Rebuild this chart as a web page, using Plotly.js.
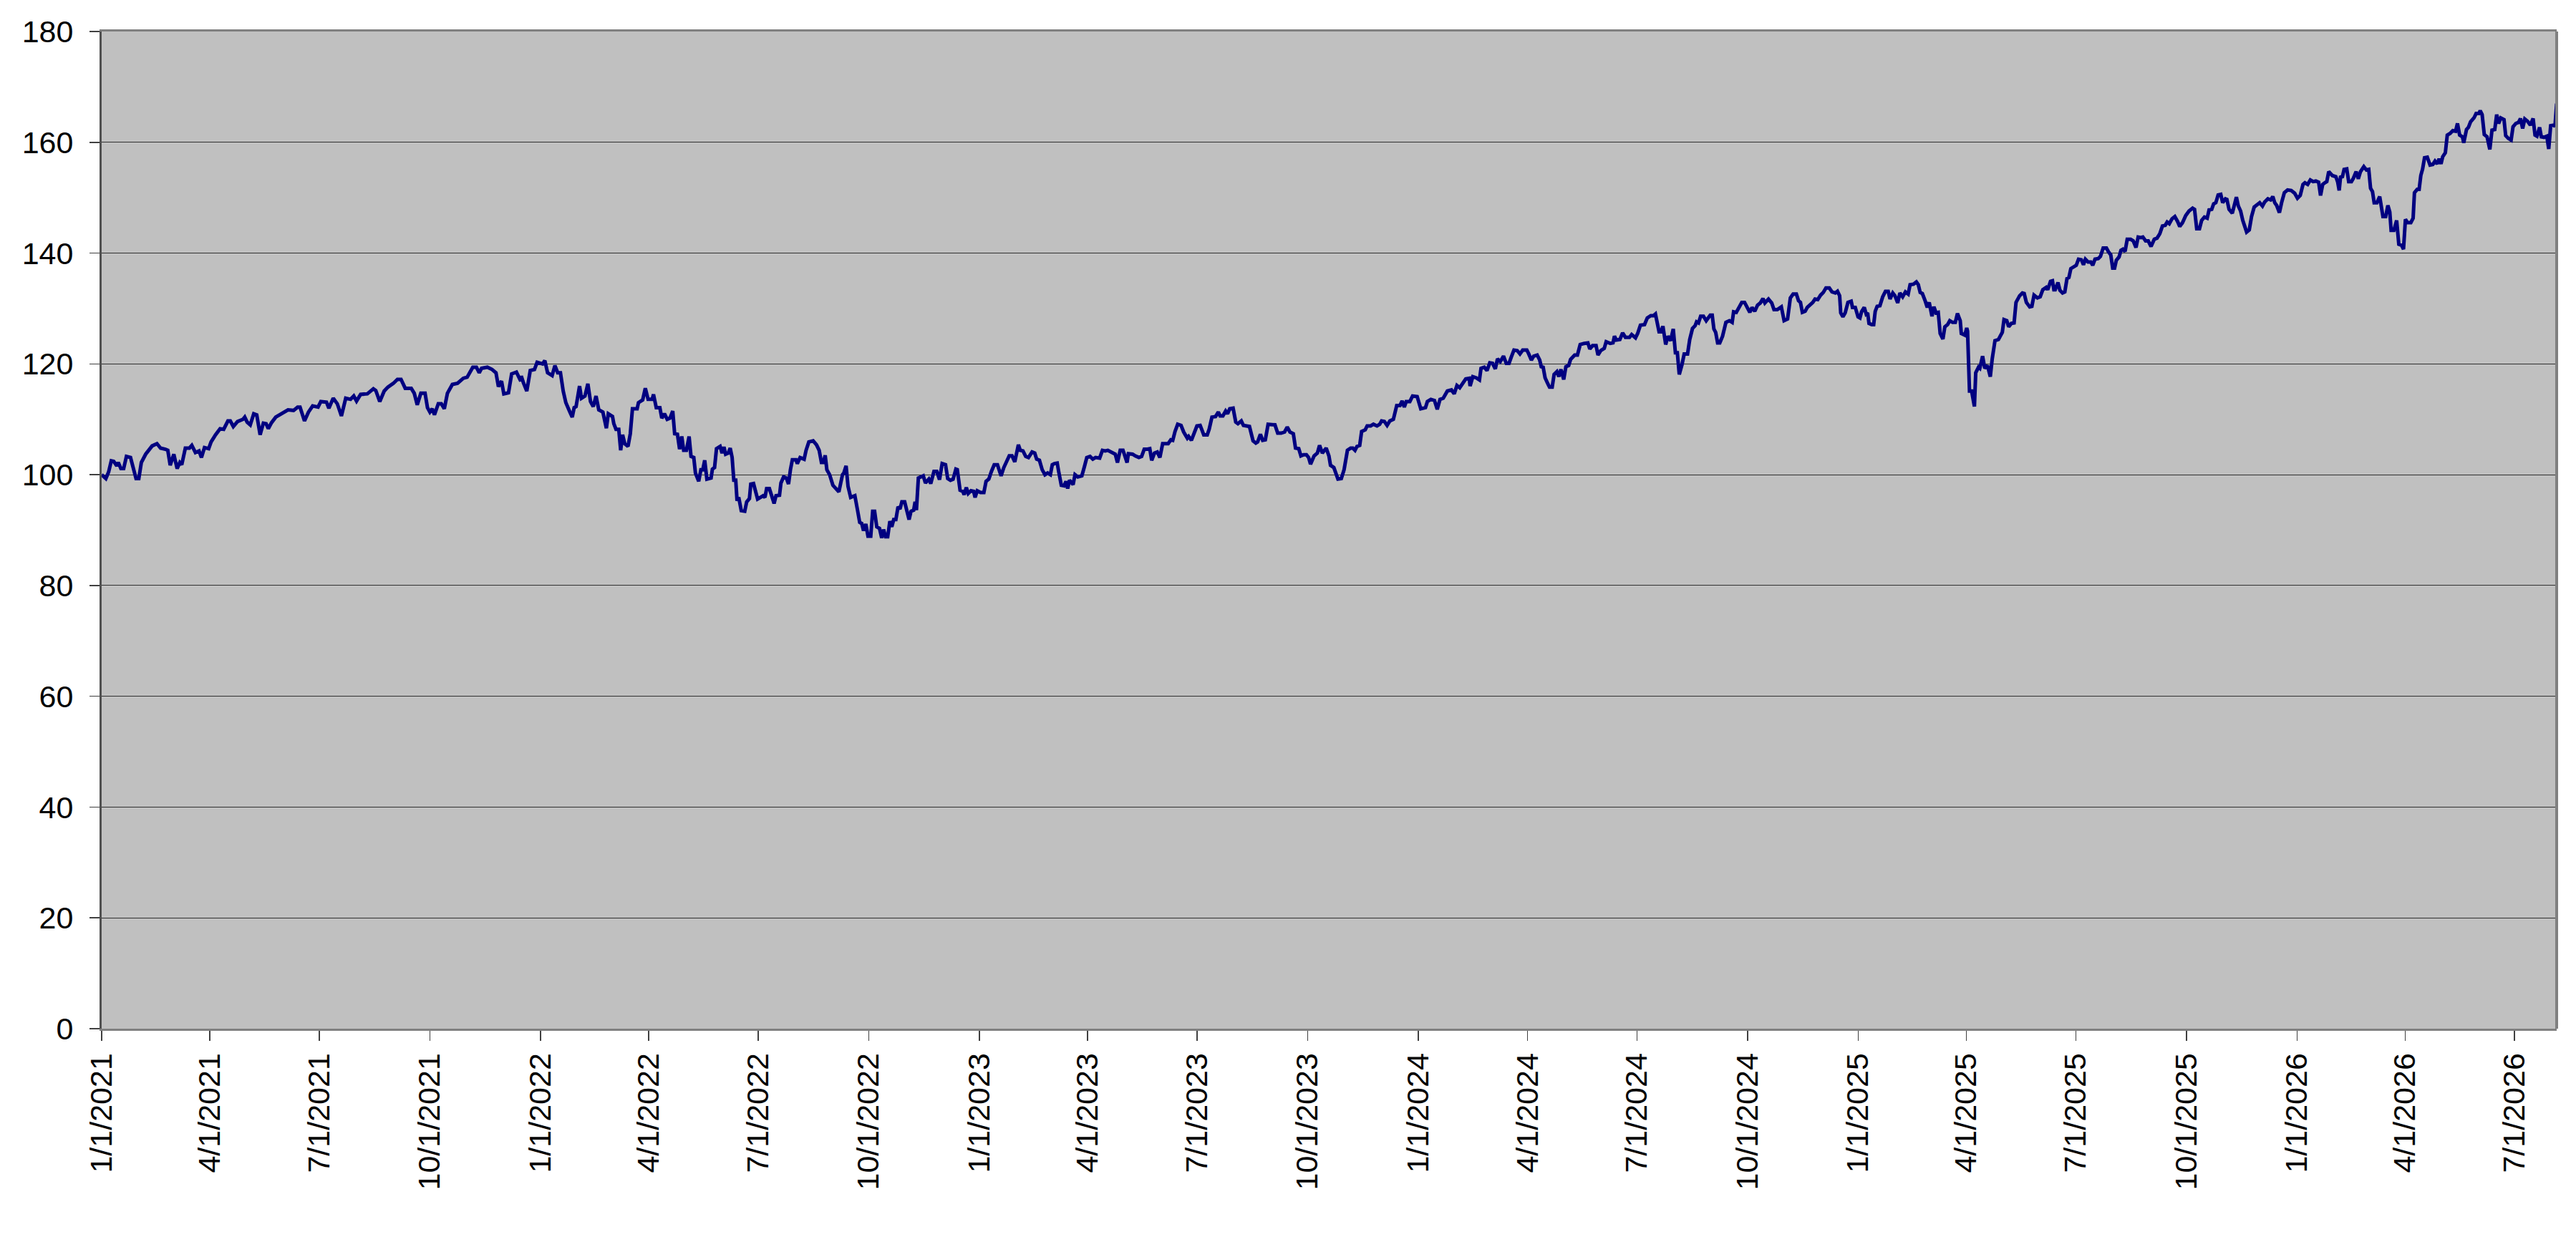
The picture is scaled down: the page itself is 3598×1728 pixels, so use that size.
<!DOCTYPE html>
<html>
<head>
<meta charset="utf-8">
<script src="https://cdn.plot.ly/plotly-3.0.1.min.js"></script>
<style>
  html, body { margin:0; padding:0; background:#fff; }
  #chart { width:3598px; height:1728px; }
</style>
</head>
<body>
<div id="chart"></div>
<script>
// Days after 1/1/2021 and index values
const daysA = [0,3.5,5.8,8,10,12.6,13.8,16,18.3,20.6,24,26.3,28.6,30.9,33,36.6,38.8,42,46,49,53,55,57,60,62.8,65,66.6,69.6,73,75,78,81,83,85.5,89,91,94.7,98.5,101.5,105,107,109.5,113,117.5,119,121,123.6,126.5,129,131.8,134.5,136.8,138.6,141.3,144.8,148,151.6,155,159.6,163,165,168.7,172,175.5,180,182.3,187,189,192.6,196,199.4,203,207,209.7,212,215.4,221,226,228,231.3,235,238,242.7,246,249,252.5,257.5,260,262.5,265.5,269,271,273,275,276.8,280,282.5,285,287.6,291.7,296,300.8,304,308.7,311.7,314,316,320.8,324.7,328,330,332.6,334.5,338.4,341,345,348.6];
const valsA = [100.0,99.3,100.5,102.5,102.4,101.6,102.2,101.1,101.1,103.3,103.1,101.1,99.3,99.3,102.2,103.7,104.4,105.2,105.6,104.8,104.6,104.4,101.7,103.7,101.1,102.2,101.8,104.8,104.8,105.3,104.0,104.3,103.1,104.9,104.7,105.9,107.2,108.3,108.2,109.7,109.7,108.7,109.6,110.0,110.4,109.5,109.0,111.0,110.8,107.2,109.3,109.2,108.3,109.4,110.4,110.8,111.3,111.7,111.6,112.2,112.2,109.7,111.3,112.4,112.2,113.2,113.1,112.0,113.8,112.8,110.6,113.8,113.6,114.2,113.3,114.5,114.6,115.5,115.2,113.2,115.1,115.8,116.5,117.2,117.2,115.6,115.6,114.7,112.6,114.7,114.7,112.1,111.3,111.9,110.8,112.8,112.8,111.9,114.7,116.3,116.5,117.4,117.6,119.4,119.4,118.4,119.2,119.4,119.0,118.4,115.9,116.9,114.6,114.8,118.2,118.5,116.9];

const daysB = [349,350.8,353.6,356.5,360,362.2,366.8,368.6,370.9,374.7,377,379.3,381.6,383.9,386.1,389.5,391.4,393,394.6,397.5,399.1,402,404.4,406.6,408.9,411.2,413.5,416.9,419.8,421.4,424.9,426,427.8,430.1,431.7,433.3,435.1,437.8,439.7,441.5,445.4,446.5,450,452.2,454.5,457.9,459,461.3,464.3,465.9,468.1,470.4,472.7,475,476.6,478.9,480.7,482.5,484.1,486.4,488.6,490.2,492.5,493.9,496.6,498.4,500,501.6,503.4,506.9,508,509.8,511.4,514.4,516,517.6,519,521.2,522.8,524.4,525.8,527.4,528.5,529.9,532,534.9,536.5,538.8,539.9,542.2,544,545.6,547.9,550.1,551.7,553.1,555.4,557,559.3,560.9,563.8,565,567.2,569.5,571.3,572.9,574.5,577.5,578.6,580.9,584.3,585.9,588.2,591.8,594.6,596.8,598.7,600.3,601.8,603.2,605.5,608.2,610.5,613.2,616.2,617.3,619.2,620.8,623,626.5,628.7,630.5,632.2,633.7,635.6,637.4,639.7,641.3,642.9,644.7,647,648.8,650.4,652,653.8,655.6,657.2,658.8,660.6,662.4,664,665.6,667.9,669.3,671.6,673.2,675.4,676.6,677.7,679.3,681.1,683.4,685.2,688];
const valsB = [117.8,116.6,115.1,118.8,119.0,120.3,120.0,120.6,118.4,117.9,119.7,118.4,118.4,115.1,113.0,111.3,110.4,112.1,112.3,116.0,113.8,114.2,116.4,113.2,112.3,114.2,111.7,111.3,108.4,111.0,110.5,109.2,108.2,108.2,104.4,107.2,105.6,105.1,107.4,111.9,111.9,113.0,113.5,115.6,113.6,113.6,114.5,112.1,112.1,110.2,111.0,110.0,110.2,111.5,107.4,107.3,104.6,106.9,104.4,104.4,106.9,103.3,103.1,100.3,98.8,100.9,100.9,102.6,99.2,99.4,101.0,101.3,104.7,105.1,103.9,105.0,103.7,103.9,104.8,103.1,99.0,99.0,95.3,95.9,93.5,93.4,95.1,95.7,98.3,98.4,96.6,95.6,95.9,96.2,95.9,97.5,97.5,96.2,94.8,96.2,96.3,98.5,99.6,99.4,98.3,100.9,102.7,102.7,102.0,103.1,102.8,104.4,105.9,106.1,105.4,104.4,102.2,102.2,103.5,100.9,100.0,98.1,97.5,96.9,100.0,100.3,101.6,97.9,95.9,96.2,93.6,91.4,91.2,89.9,91.1,88.9,88.9,93.4,93.4,90.6,90.3,88.6,90.1,88.8,88.8,91.6,90.6,91.9,91.9,94.2,93.8,95.1,95.1,93.8,91.9,93.4,93.6,95.1,93.6,99.4,99.6,99.8,98.5,99.2];

const daysC = [689.6,692.3,694.6,696.9,699.1,701.9,703.7,706,708.2,710.5,711.7,714,716.2,717.4,719.2,720.8,723.1,725.3,726.5,728.3,731,733.8,735.6,737.9,740.1,742.4,745.1,748.1,750.4,752.7,754.9,757.2,759.5,762.5,764.1,766.3,768.6,770.9,773.9,776.1,777.7,780,782.3,784.6,786.8,789.1,790.7,792.5,794.8,795.9,798.2,800.5,802.1,803.5,805,808,809.6,811.9,815.3,817.6,819.4,822.1,824.4,826.7,830.1,832.4,834.7,836.9,840.4,843.1,844.9,847.2,849.5,851.8,852.9,854,857.5,859.7,862.7,865,867.2,870,871.8,873.4,875.7,878,880.2,882.5,884.8,887.1,889.3,890.9,892.8,895,897.8,900,903,904.1,906.4,908.7,911,913.7,916.7,919.6,921.2,923.5,926.5,928.8,930.3,932.6,934.9,936.5,938.3,941.1,943.3,945.1,947.9,949.7,952.4,954.7,957.7,960,961.5,963.8,965.7,967.9,970.2,972.5,975.9,978.2,981.1,983.9,986.1,988.4,991.2,993,995.7,997.5,999.8,1002.1,1003.9,1005.5,1008.5,1011.2,1013,1015.3,1018.5,1020.8,1022.1,1024.9,1027.1,1028.3];
const valsC = [98.4,100.6,100.6,99.1,102.0,101.8,99.3,99.0,99.2,101.0,100.9,97.2,97.0,96.4,97.7,96.6,97.1,97.0,95.9,97.1,96.8,96.8,98.8,99.2,100.6,101.8,101.8,99.8,101.3,102.4,103.4,103.4,102.3,105.4,104.4,104.3,103.3,103.1,104.1,103.9,102.8,102.6,100.9,100.0,100.3,100.0,101.8,102.0,102.1,100.7,98.1,98.0,98.8,97.5,99.0,98.2,100.0,99.6,99.8,101.6,103.1,103.3,102.8,103.1,103.0,104.4,104.3,104.4,103.9,103.7,102.2,104.4,104.4,102.8,102.2,103.8,103.7,103.4,103.1,103.3,104.6,104.6,104.7,102.6,103.9,104.1,103.1,105.6,105.6,105.6,106.3,106.2,107.8,109.1,108.9,107.7,106.6,106.9,106.2,107.4,108.8,108.9,107.2,107.2,108.2,110.4,110.5,111.3,110.6,110.6,111.5,111.0,111.9,112.0,109.5,109.2,109.7,108.9,108.8,108.7,106.1,105.7,105.9,107.3,106.2,106.3,109.1,109.1,109.0,107.5,107.5,107.7,108.6,107.7,107.4,104.8,104.7,103.4,103.6,103.6,103.1,101.9,103.4,103.9,105.3,103.9,104.8,103.4,101.7,101.3,100.0,99.2];

const daysD = [1031.1,1033.4,1036.2,1038.9,1040.7,1042.5,1044.1,1046.4,1048,1051,1052.6,1055.5,1057.8,1060.8,1063,1064.6,1066.9,1069.2,1071.5,1074.4,1077.2,1079.9,1081.7,1083.5,1085.1,1088.1,1090.4,1094.2,1097.2,1101.1,1102.7,1105.6,1108.6,1110.9,1113.2,1115.9,1119.3,1122.7,1125,1127.3,1129.6,1131.8,1134.6,1137.5,1138.2,1140.5,1143.2,1146,1147.3,1150,1152.3,1154.6,1156.9,1159.2,1161,1163.3,1166,1168.3,1170.6,1172.4,1174.7,1177.4,1179.7,1182,1185.4,1187,1189.2,1191.1,1194,1196.1,1197.4,1199,1200.6,1202.9,1204.3,1206.5,1208.1,1210.4,1212,1213.8,1216.1,1217.9,1220.2,1221.8,1225.2,1227.5,1229.8,1233.2,1236.2,1237.8,1240.1,1243,1244.6,1246.9,1249.8,1251.4,1254.8,1257.1,1258.3,1259.9,1262.8,1265.1,1267.4,1270.8,1272.6,1275.8,1277.6,1279.9,1283.3,1285.6,1288.5,1290.8,1292.4,1295.4,1297,1298.6,1300.9,1302.7,1305,1307.2,1309,1310.6,1312.2,1314.5,1316.3,1319.1,1320.9,1323.2,1325.4,1326.6,1328.2,1330,1332.3,1334.6,1338,1339.6,1341,1342.5,1344.1,1345.9,1348.2,1351,1353.9,1356.2,1357.4,1359.6,1361.9,1364.2,1366.5];
const valsD = [99.3,100.9,104.4,104.8,104.8,104.4,105.1,105.3,107.8,108.1,108.8,108.8,109.1,108.8,109.1,109.7,109.6,108.9,109.7,110.0,112.5,112.5,113.3,112.2,113.2,113.2,114.2,114.1,111.9,112.1,113.2,113.6,113.4,111.8,113.6,113.8,115.1,115.3,114.6,116.1,115.7,116.5,117.3,117.4,116.0,117.7,117.5,117.1,119.2,119.4,118.8,120.2,120.1,119.1,120.9,120.4,121.4,120.1,120.1,121.2,122.5,122.4,121.8,122.5,122.5,121.8,120.7,121.4,121.6,120.7,119.5,119.4,117.5,116.4,115.8,115.8,118.1,118.6,117.7,119.0,117.2,119.5,119.7,120.8,121.6,121.6,123.5,123.7,123.8,122.7,123.3,123.3,121.6,122.4,122.8,124.0,123.7,123.8,125.0,124.3,124.4,125.6,124.8,124.8,125.3,124.7,125.5,127.0,127.1,128.3,128.7,128.7,129.0,125.8,125.8,126.8,123.5,125.0,124.2,126.3,122.0,122.0,118.1,119.9,121.8,121.8,124.4,126.4,126.9,127.6,127.4,128.6,128.6,127.8,128.8,128.8,126.3,125.7,123.8,123.8,125.0,127.5,127.8,127.5,129.4,129.3,130.3,131.1,131.1];

const daysE = [1368.6,1370.9,1372.7,1375,1377.3,1379.6,1381.8,1383.4,1386.4,1389.1,1391,1393.7,1397.1,1399.4,1402.3,1404.6,1406.9,1409.6,1411.4,1413,1414.6,1416.9,1418.7,1421,1423.3,1425.1,1427.4,1429.7,1432,1434.2,1437,1439.2,1442,1443.8,1445.6,1446.5,1448.3,1450.2,1452.5,1455.2,1456.3,1458.6,1460.9,1462.5,1463.8,1466.1,1467.7,1468.9,1470,1472.3,1473.9,1475.2,1476.8,1479.1,1481.4,1483.7,1486,1487.5,1489.8,1491.6,1493.9,1495.7,1498,1500.3,1502.6,1504.2,1507.1,1509.4,1511,1512.6,1514.4,1516.7,1518.5,1520.1,1522.4,1524,1525.8,1527.6,1529.2,1531.5,1533.1,1535.4,1537.2,1539.5,1541.8,1543.6,1545.9,1546.8,1549.7,1551.3,1552,1553.6,1555.4,1557.7,1558.8,1561.1,1562.2,1564.5,1566.3,1568.6,1570.9,1572.5,1574.8,1577.7,1579.3,1580.9,1582.3,1584.6,1586.2,1588.4,1590.7,1592.3,1595.3,1597.6,1599.1,1600.9,1603.7,1605.5,1607.3,1610.1,1612.4,1614.6,1617.4,1618.7,1621,1622.6,1623.8,1624.9,1627.2,1628.8,1631,1632.9,1634.7,1636.3,1637.9,1640.2,1642.4,1644.3,1646.6,1648.4,1650,1652.2,1654.5,1656.1,1658,1660.7,1662.5,1664.8,1667.5,1669.3,1671.1,1672.7,1674.3,1675.7,1678,1679.6,1681.2,1683,1684.8,1687.6,1689.8,1692.1,1693.9,1696.2,1697.8,1700.1,1702.3,1704.6];
const valsE = [130.2,129.3,130.2,129.5,130.6,131.0,131.8,131.0,131.7,131.0,129.8,129.8,130.3,127.8,128.1,131.9,132.6,132.6,131.4,131.1,129.3,129.5,130.2,130.6,131.1,131.7,131.6,132.4,132.9,133.7,133.7,133.0,132.8,133.1,132.3,129.2,128.5,129.2,131.1,131.3,130.2,130.2,128.5,128.3,129.4,130.2,129.0,129.2,127.3,127.1,127.1,129.5,130.4,130.5,132.1,133.1,133.1,131.7,132.8,132.3,131.0,132.8,132.1,133.0,132.6,134.3,134.4,134.8,134.3,132.9,132.7,131.4,130.2,131.1,128.6,130.3,129.2,129.3,125.5,124.5,126.7,127.1,127.8,127.5,127.5,129.1,127.8,125.5,125.2,126.5,125.9,115.1,115.1,112.3,118.4,119.4,119.2,121.4,119.2,119.7,117.7,120.9,124.2,124.4,125.2,125.7,128.0,127.8,126.7,127.3,127.4,131.1,132.3,132.8,132.7,131.1,130.3,130.4,132.4,131.9,132.1,133.4,133.8,133.4,134.9,135.0,133.4,133.4,134.7,133.3,132.8,133.0,135.4,135.6,137.2,137.5,137.8,138.9,138.8,137.9,138.9,138.4,138.4,137.8,138.9,139.0,139.4,140.9,140.9,140.2,139.7,137.3,137.3,138.7,139.3,140.5,140.7,140.3,142.5,142.5,142.2,141.0,142.9,142.8,142.9,142.2,142.2,141.2];

const daysF = [1707.3,1709.6,1711.9,1714.1,1716.4,1718,1719.8,1722.1,1724.4,1726.7,1728.5,1730.8,1733.5,1736.2,1739.2,1740.8,1742.6,1744.9,1746.7,1749,1751.3,1752.9,1755.1,1756.7,1758.5,1760.4,1762.6,1764.2,1766.5,1767.7,1769.5,1772.2,1774,1775.6,1777.2,1779.1,1780.9,1782.5,1784.1,1786.3,1788.2,1790.4,1792.7,1795,1797.3,1799.1,1801.8,1804.1,1805.9,1807.5,1809.1,1811.4,1813.2,1815.5,1818.2,1821.2,1824.1,1826.4,1828.7,1831,1832.6,1834.9,1837.1,1839.4,1841.7,1844,1845.6,1847.4,1849.2,1850.8,1852.4,1855.4,1858.3,1859.9,1861.1,1862.2,1863.8,1865.2,1867.4,1869,1871.3,1872.9,1875.2,1877,1878.8,1881.6,1883.8,1885.7,1887.2,1888.8,1890.2,1892.5,1894.8,1896.4,1897.5,1899.8,1901.6,1903.2,1904.3,1906.6,1908.9,1910.7,1913,1914.6,1916.2,1918,1920.7,1922.6,1923.7,1926,1927.6,1929,1930.5,1932.1,1934.4,1936.7,1939,1940.8,1942.6,1944.2,1945.8,1947.2,1949.4,1951,1953.3,1955.6,1957.9,1959.5,1961.3,1963.6,1964.7,1967,1968.6,1970.4,1973.2,1975,1977.3,1978.4,1980,1981.8,1984.1,1986.4,1988.2,1990.5,1992.1,1993.7,1995.5,1998.2,1999.6,2001.8,2004.1,2005.7,2008,2010.3,2011.9,2013.7,2015.5,2017.8,2020.1,2022.4,2024,2025.6,2027.8,2029.2,2031.5,2033.8,2035.4,2037,2039.3,2040.6,2042];
const valsF = [142.5,142.7,143.5,144.9,145.0,145.6,145.3,146.2,146.6,145.7,144.8,145.5,146.8,147.6,148.1,147.9,144.4,144.4,145.9,146.5,146.3,147.8,147.9,148.9,149.1,150.5,150.6,149.1,149.8,149.7,147.9,147.2,149.1,150.1,148.5,147.6,145.9,144.6,143.8,144.2,146.6,148.3,148.8,149.1,148.5,149.2,149.8,149.6,150.2,149.1,148.6,147.3,149.1,150.9,151.4,151.3,150.8,149.9,150.4,152.4,152.7,152.4,153.2,152.9,153.0,152.8,150.4,152.4,152.7,152.9,154.7,154.0,153.8,152.8,151.3,153.7,153.8,155.1,155.2,152.9,152.9,153.5,154.7,153.4,154.7,155.6,155.0,155.1,151.7,151.1,149.1,149.1,150.2,148.5,146.6,146.6,148.6,147.4,144.1,144.1,145.9,141.6,141.4,140.7,146.1,145.5,145.5,146.3,150.9,151.5,151.5,154.0,155.2,157.2,157.3,155.9,156.0,156.6,156.1,157.0,156.1,157.4,158.1,161.3,161.6,162.1,162.0,163.4,161.3,161.0,159.9,162.3,162.7,163.7,164.4,165.2,165.2,165.7,165.0,161.4,161.0,158.7,162.2,162.3,165.0,163.4,164.4,164.1,161.2,160.7,160.4,162.8,163.4,163.6,164.3,162.5,164.2,163.8,163.1,164.3,161.3,161.1,162.7,161.0,160.9,161.1,158.8,163.0,163.1,162.9,167.0];

const startDate = '2021-01-01';
const endDay    = 2042;
const yTicks    = [0,20,40,60,80,100,120,140,160,180];

// ── helpers ─────────────────────────────────────────────
const base = Date.UTC(2021, 0, 1);
const toDate = d => new Date(base + d * 864e5).toISOString().slice(0, 19).replace('T', ' ');

const days = [].concat(daysA, daysB, daysC, daysD, daysE, daysF);
const vals = [].concat(valsA, valsB, valsC, valsD, valsE, valsF);
if (days.length !== vals.length) console.error('length mismatch', days.length, vals.length);

const font = {family:'"Liberation Sans", Arial, sans-serif', size:43, color:'#000'};

Plotly.newPlot('chart', [{
  type:'scatter', mode:'lines',
  x: days.map(toDate),
  y: vals,
  line:{color:'#000080', width:5},
  hoverinfo:'skip',
}], {
  width:3598, height:1728,
  margin:{l:142, r:27, t:44, b:291},
  paper_bgcolor:'#ffffff',
  plot_bgcolor:'#c0c0c0',
  showlegend:false,
  font,
  xaxis:{
    type:'date',
    range:[startDate, toDate(endDay)],
    tick0:startDate, dtick:'M3',
    tickformat:'%-m/%-d/%Y',
    tickangle:-90,
    ticks:'outside', ticklen:14, tickwidth:1.5, tickcolor:'#404040',
    showgrid:false, zeroline:false,
    showline:true, linecolor:'#808080', linewidth:3, mirror:true,
    tickfont:font,
  },
  yaxis:{
    range:[0,180],
    tickvals:yTicks,
    ticks:'outside', ticklen:14, tickwidth:1.5, tickcolor:'#404040',
    showgrid:true, gridcolor:'#303030', gridwidth:1.2,
    zeroline:false,
    showline:true, linecolor:'#505050', linewidth:3,
    ticklabelstandoff:14,
    tickfont:font,
  },
  shapes:[
    {type:'line', xref:'paper', yref:'paper', x0:1, x1:1, y0:0, y1:1,
     line:{color:'#808080', width:4}},
  ],
}, {staticPlot:true});
</script>
</body>
</html>
